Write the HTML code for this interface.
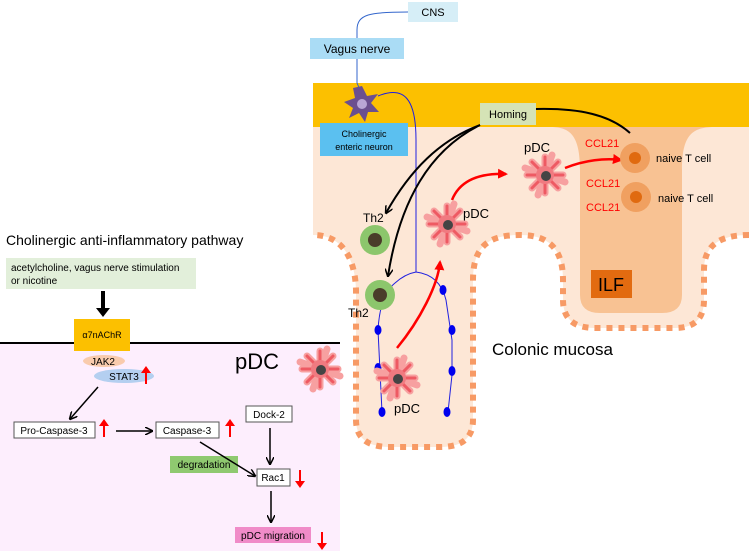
<!DOCTYPE html>
<html><head><meta charset="utf-8"><style>
body{margin:0;background:#fff}
svg{display:block;font-family:"Liberation Sans",Arial,sans-serif}
</style></head><body>
<svg width="749" height="556" viewBox="0 0 749 556" xmlns="http://www.w3.org/2000/svg">
<defs>
<marker id="ab" markerWidth="8" markerHeight="8" refX="7" refY="4" orient="auto" markerUnits="userSpaceOnUse"><path d="M0,0 L8,4 L0,8" fill="none" stroke="#000" stroke-width="1.5"/></marker>
<marker id="ar" markerWidth="10" markerHeight="10" refX="8" refY="5" orient="auto" markerUnits="userSpaceOnUse"><path d="M0,0 L10,5 L0,10 Z" fill="#f00"/></marker>
<g id="pdc">
<g stroke="#f7a0a0" stroke-width="7" stroke-linecap="round">
<line x1="-18" y1="0" x2="18" y2="0"/><line x1="0" y1="-18" x2="0" y2="18"/>
<line x1="-13" y1="-13" x2="13" y2="13"/><line x1="13" y1="-13" x2="-13" y2="13"/>
<line x1="-20" y1="-7" x2="20" y2="7"/><line x1="-7" y1="20" x2="7" y2="-20"/>
</g>
<g stroke="#ee5a63" stroke-width="3" stroke-linecap="round">
<line x1="-18" y1="0" x2="18" y2="0"/><line x1="0" y1="-18" x2="0" y2="18"/>
<line x1="-13" y1="-13" x2="13" y2="13"/><line x1="13" y1="-13" x2="-13" y2="13"/>
</g>
<circle r="9" fill="#f07a80"/>
<circle cx="1" cy="1" r="5" fill="#444"/>
</g>
</defs>

<!-- left panel -->
<text x="6" y="245" font-size="14">Cholinergic anti-inflammatory pathway</text>
<rect x="6" y="258" width="190" height="31" fill="#e2efda"/>
<text x="11" y="271" font-size="10">acetylcholine, vagus nerve stimulation</text>
<text x="11" y="284" font-size="10">or nicotine</text>
<rect x="0" y="343" width="340" height="208" fill="#fdeefd"/>
<line x1="0" y1="343" x2="340" y2="343" stroke="#000" stroke-width="2"/>
<line x1="103" y1="291" x2="103" y2="309" stroke="#000" stroke-width="4"/>
<path d="M96,308 L110,308 L103,317 Z" fill="#000"/>
<rect x="74" y="319" width="56" height="32" fill="#fcc000"/>
<text x="102" y="338" font-size="9" text-anchor="middle">α7nAChR</text>
<ellipse cx="104" cy="361" rx="21" ry="6" fill="#f9cbad"/>
<text x="103" y="365" font-size="10" text-anchor="middle">JAK2</text>
<ellipse cx="124" cy="376" rx="30" ry="7" fill="#b4cff0"/>
<text x="124" y="380" font-size="10" text-anchor="middle">STAT3</text>
<text x="235" y="369" font-size="22">pDC</text>
<use href="#pdc" x="320" y="369"/>
<line x1="98" y1="387" x2="70" y2="419" stroke="#000" stroke-width="1.5" marker-end="url(#ab)"/>
<rect x="14" y="422" width="81" height="16" fill="#fff" stroke="#555"/>
<text x="54" y="434" font-size="10" text-anchor="middle">Pro-Caspase-3</text>
<line x1="116" y1="431" x2="152" y2="431" stroke="#000" stroke-width="1.5" marker-end="url(#ab)"/>
<rect x="156" y="422" width="63" height="16" fill="#fff" stroke="#555"/>
<text x="187" y="434" font-size="10" text-anchor="middle">Caspase-3</text>
<rect x="246" y="406" width="46" height="16" fill="#fff" stroke="#555"/>
<text x="269" y="418" font-size="10" text-anchor="middle">Dock-2</text>
<rect x="170" y="456" width="68" height="17" fill="#8fc970"/>
<text x="204" y="468" font-size="10" text-anchor="middle">degradation</text>
<line x1="200" y1="442" x2="255" y2="476" stroke="#000" stroke-width="1.5" marker-end="url(#ab)"/>
<line x1="270" y1="428" x2="270" y2="464" stroke="#000" stroke-width="1.5" marker-end="url(#ab)"/>
<rect x="257" y="469" width="33" height="17" fill="#fff" stroke="#555"/>
<text x="273" y="481" font-size="10" text-anchor="middle">Rac1</text>
<line x1="271" y1="491" x2="271" y2="522" stroke="#000" stroke-width="1.5" marker-end="url(#ab)"/>
<rect x="235" y="527" width="76" height="16" fill="#f08bc8"/>
<text x="273" y="539" font-size="10" text-anchor="middle">pDC migration</text>
<g stroke="#f00" stroke-width="2" fill="#f00">
<line x1="146" y1="384" x2="146" y2="372"/><path d="M141,373 L146,366 L151,373Z" stroke="none"/>
<line x1="104" y1="437" x2="104" y2="425"/><path d="M99,426 L104,419 L109,426Z" stroke="none"/>
<line x1="230" y1="437" x2="230" y2="425"/><path d="M225,426 L230,419 L235,426Z" stroke="none"/>
<line x1="300" y1="470" x2="300" y2="482"/><path d="M295,481 L300,488 L305,481Z" stroke="none"/>
<line x1="322" y1="532" x2="322" y2="544"/><path d="M317,543 L322,550 L327,543Z" stroke="none"/>
</g>

<!-- right: tissue -->
<rect x="313" y="83" width="436" height="44" fill="#fcc000"/>
<path d="M313,127 L749,127 L749,235 C720,235 704,245 704,270 L704,300 Q704,328 675,328 L595,328 Q563,328 563,300 L563,280 C563,250 550,235 520,235 C490,235 473,245 473,280 L473,420 Q473,447 440,447 L390,447 Q356,447 356,420 L356,290 C355,255 340,235 313,235 Z" fill="#fde7d6"/>
<path d="M749,235 C720,235 704,245 704,270 L704,300 Q704,328 675,328 L595,328 Q563,328 563,300 L563,280 C563,250 550,235 520,235 C490,235 473,245 473,280 L473,420 Q473,447 440,447 L390,447 Q356,447 356,420 L356,290 C355,255 340,235 313,235" fill="none" stroke="#f79a65" stroke-width="6" stroke-dasharray="6,6"/>
<path d="M550,127 C570,127 580,135 580,170 L580,295 Q580,313 600,313 L662,313 Q682,313 682,295 L682,170 C682,135 692,127 715,127 Z" fill="#f8c293"/>
<rect x="591" y="270" width="41" height="28" fill="#e26b10"/>
<text x="611" y="291" font-size="18" text-anchor="middle">ILF</text>
<text x="492" y="355" font-size="17">Colonic mucosa</text>

<!-- nerves -->
<path d="M408,12 C370,12 357,14 357,30 L357,40" fill="none" stroke="#36c" stroke-width="1"/>
<path d="M357,58 L357,83 L360,90" fill="none" stroke="#36c" stroke-width="1"/>
<path d="M378,96 C405,85 416,100 416,140 L416,272" fill="none" stroke="#2020e0" stroke-width="1"/>
<path d="M382,412 L378,330 Q380,295 395,283 Q405,274 416,272 Q440,275 446,300 L452,340 L452,375 L448,412" fill="none" stroke="#2020e0" stroke-width="1"/>
<g fill="#0000ee">
<ellipse cx="378" cy="330" rx="3.5" ry="5"/><ellipse cx="378" cy="368" rx="3.5" ry="5"/><ellipse cx="382" cy="412" rx="3.5" ry="5"/>
<ellipse cx="443" cy="290" rx="3.5" ry="5"/><ellipse cx="452" cy="330" rx="3.5" ry="5"/><ellipse cx="452" cy="371" rx="3.5" ry="5"/><ellipse cx="447" cy="412" rx="3.5" ry="5"/>
</g>
<rect x="408" y="2" width="50" height="20" fill="#d6eef7"/>
<text x="433" y="16" font-size="11" text-anchor="middle">CNS</text>
<rect x="310" y="38" width="94" height="21" fill="#aadcf5"/>
<text x="357" y="53" font-size="12" text-anchor="middle">Vagus nerve</text>
<g transform="translate(362,104)">
<path d="M0,-18 L5,-8 L16,-10 L9,-1 L17,8 L6,8 L3,18 L-3,9 L-13,14 L-9,4 L-18,-2 L-7,-6 L-9,-16 Z" fill="#6b4f8f"/>
<circle r="5" fill="#b9a6d6"/>
</g>
<rect x="320" y="123" width="88" height="33" fill="#5bc0f0"/>
<text x="364" y="137" font-size="9" text-anchor="middle">Cholinergic</text>
<text x="364" y="150" font-size="9" text-anchor="middle">enteric neuron</text>
<rect x="480" y="103" width="56" height="22" fill="#d5e3b6"/>
<text x="508" y="118" font-size="11" text-anchor="middle">Homing</text>
<path d="M536,109 C580,108 610,115 630,133" fill="none" stroke="#000" stroke-width="2"/>
<path d="M480,125 C440,140 410,170 386,213" fill="none" stroke="#000" stroke-width="2" marker-end="url(#ab)"/>
<path d="M480,125 C430,150 400,200 388,276" fill="none" stroke="#000" stroke-width="2" marker-end="url(#ab)"/>

<!-- cells -->
<circle cx="375" cy="240" r="15" fill="#8cc66c"/><circle cx="375" cy="240" r="7" fill="#4a3c2a"/>
<circle cx="380" cy="295" r="15" fill="#8cc66c"/><circle cx="380" cy="295" r="7" fill="#4a3c2a"/>
<text x="363" y="222" font-size="12">Th2</text>
<text x="348" y="317" font-size="12">Th2</text>
<use href="#pdc" x="545" y="175"/>
<text x="524" y="152" font-size="13">pDC</text>
<use href="#pdc" x="447" y="224"/>
<text x="463" y="218" font-size="13">pDC</text>
<use href="#pdc" x="397" y="378"/>
<text x="394" y="413" font-size="13">pDC</text>
<path d="M397,348 C420,320 438,285 440,262" fill="none" stroke="#f00" stroke-width="2.5" marker-end="url(#ar)"/>
<path d="M452,200 C460,180 480,173 506,174" fill="none" stroke="#f00" stroke-width="2.5" marker-end="url(#ar)"/>
<path d="M565,168 C585,160 605,158 621,160" fill="none" stroke="#f00" stroke-width="2.5" marker-end="url(#ar)"/>
<circle cx="635" cy="158" r="15" fill="#f0a060"/><circle cx="635" cy="158" r="6" fill="#e06a10"/>
<circle cx="636" cy="197" r="15" fill="#f0a060"/><circle cx="636" cy="197" r="6" fill="#e06a10"/>
<text x="656" y="162" font-size="11">naive T cell</text>
<text x="658" y="202" font-size="11">naive T cell</text>
<g fill="#f00" font-size="11"><text x="585" y="147">CCL21</text><text x="586" y="187">CCL21</text><text x="586" y="211">CCL21</text></g>
</svg>
</body></html>
